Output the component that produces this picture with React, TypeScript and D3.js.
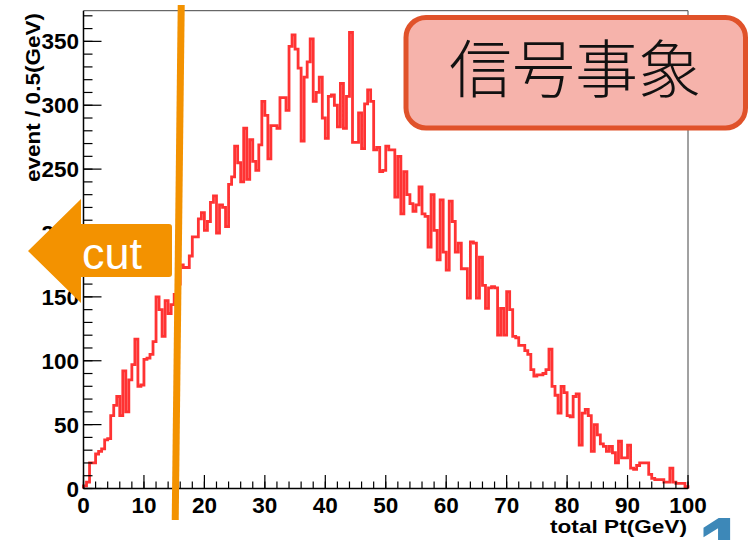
import React, { useEffect } from "react";
import * as d3 from "d3";

// ---- data (events per 0.5 GeV bin, 0..100 GeV) ----
const binWidth = 0.5;
const binValues: number[] = [
  2, 5, 20, 20, 27, 29, 31, 38, 39, 57,
  65, 72, 57, 92, 60, 85, 97, 117, 80, 81,
  101, 102, 105, 115, 150, 140, 119, 147, 137, 144,
  152, 160, 175, 173, 173, 182, 197, 197, 211, 216,
  202, 209, 224, 229, 200, 222, 220, 205, 238, 244,
  268, 255, 240, 282, 242, 273, 256, 249, 269, 303,
  292, 258, 284, 284, 282, 306, 306, 296, 346, 355,
  344, 329, 272, 322, 334, 352, 303, 310, 322, 290,
  274, 307, 308, 300, 283, 317, 282, 307, 357, 271,
  271, 294, 266, 301, 312, 303, 265, 267, 248, 249,
  268, 265, 265, 228, 260, 215, 248, 230, 223, 217,
  222, 236, 215, 213, 189, 230, 202, 179, 226, 185,
  171, 225, 209, 185, 192, 172, 172, 149, 193, 192,
  149, 181, 159, 141, 157, 158, 157, 120, 141, 120,
  154, 140, 119, 118, 112, 112, 108, 105, 93, 88,
  89, 89, 90, 93, 109, 80, 73, 59, 80, 75,
  57, 56, 72, 74, 34, 59, 62, 57, 29, 50,
  42, 35, 33, 29, 33, 28, 20, 37, 24, 24,
  34, 16, 15, 18, 20, 20, 20, 11, 8, 7,
  7, 7, 5, 5, 16, 5, 4, 4, 4, 1.5,
];

const xMajorTicks = [0, 10, 20, 30, 40, 50, 60, 70, 80, 90, 100];
const xMinorTicks = d3.range(0, 101, 2);
const yMajorTicks = [0, 50, 100, 150, 200, 250, 300, 350];
const yMinorTicks = d3.range(0, 371, 10);
const xTitle = "total Pt(GeV)";
const yTitle = "event / 0.5(GeV)";
const boxLabel = "信号事象";
const cutLabel = "cut";
const pageLabel = "1";
const cutValue = 16; // GeV (drawn as a slanted marker)

const W = 750;
const H = 540;
const X0 = 83.5, X1 = 688, Y0 = 488.5, Y1 = 10.7;

export default function App() {
  useEffect(() => {
    document.body.style.margin = "0";
  }, []);

  const x = d3.scaleLinear().domain([0, 100]).range([X0, X1]);
  const y = d3.scaleLinear().domain([0, 374]).range([Y0, Y1]);

  const pts: [number, number][] = [[0, 0]];
  binValues.forEach((v, i) => pts.push([i * binWidth, v]));
  pts.push([100, binValues[binValues.length - 1]]);
  pts.push([100, 0]);
  const line = d3
    .line<[number, number]>()
    .x((d) => x(d[0]))
    .y((d) => y(d[1]))
    .curve(d3.curveStepAfter);
  const histPath = line(pts) || "";

  const orange = "#f39200";
  const labelFont = "'Liberation Sans', Arial, Helvetica, sans-serif";

  return (
    <svg
      width={W}
      height={H}
      style={{ position: "absolute", left: 0, top: 0, background: "#fff" }}
    >
      <rect x={0} y={0} width={W} height={H} fill="#fff" />
      {/* frame */}
      <line x1={X0} x2={X1} y1={Y1} y2={Y1} stroke="#444" strokeWidth={1} />
      <line x1={X1} x2={X1} y1={Y1} y2={Y0} stroke="#444" strokeWidth={1} />

      {/* histogram */}
      <path d={histPath} fill="none" stroke="#ff3333" strokeWidth={2.8} strokeLinejoin="miter" />

      {/* axes */}
      <line x1={X0} x2={X1} y1={Y0} y2={Y0} stroke="#000" strokeWidth={1.5} />
      <line x1={X0} x2={X0} y1={Y0} y2={Y1} stroke="#000" strokeWidth={1.5} />
      {xMinorTicks.map((t) => (
        <line key={"xm" + t} x1={x(t)} x2={x(t)} y1={Y0} y2={Y0 - 7} stroke="#000" strokeWidth={1.2} />
      ))}
      {xMajorTicks.map((t) => (
        <line key={"xM" + t} x1={x(t)} x2={x(t)} y1={Y0} y2={Y0 - 13.5} stroke="#000" strokeWidth={1.2} />
      ))}
      {yMinorTicks.map((t) => (
        <line key={"ym" + t} x1={X0} x2={X0 + 9} y1={y(t)} y2={y(t)} stroke="#000" strokeWidth={1.2} />
      ))}
      {yMajorTicks.map((t) => (
        <line key={"yM" + t} x1={X0} x2={X0 + 18} y1={y(t)} y2={y(t)} stroke="#000" strokeWidth={1.2} />
      ))}
      {xMajorTicks.map((t) => (
        <text
          key={"xl" + t}
          x={x(t)}
          y={513}
          textAnchor="middle"
          fontFamily={labelFont}
          fontWeight="bold"
          fontSize={22.5}
          fill="#000"
        >
          {t}
        </text>
      ))}
      {yMajorTicks.map((t) => (
        <text
          key={"yl" + t}
          x={79}
          y={y(t) + 8}
          textAnchor="end"
          fontFamily={labelFont}
          fontWeight="bold"
          fontSize={22.5}
          fill="#000"
        >
          {t}
        </text>
      ))}
      <text
        x={687}
        y={533}
        textAnchor="end"
        fontFamily={labelFont}
        fontWeight="bold"
        fontSize={19}
        textLength={137}
        lengthAdjust="spacingAndGlyphs"
        fill="#000"
      >
        {xTitle}
      </text>
      <text
        transform="translate(39.5,13) rotate(-90)"
        textAnchor="end"
        fontFamily={labelFont}
        fontWeight="bold"
        fontSize={19.5}
        textLength={169}
        lengthAdjust="spacingAndGlyphs"
        fill="#000"
      >
        {yTitle}
      </text>

      {/* cut marker */}
      <line
        x1={x(cutValue) + 1}
        y1={5}
        x2={x(cutValue) - 5}
        y2={520}
        stroke={orange}
        strokeWidth={7}
      />
      <path
        d="M28,251 L81,199 L81,224 L169,224 Q172,224 172,227 L172,274 Q172,277 169,277 L81,277 L81,303 Z"
        fill={orange}
      />
      <text
        x={82}
        y={269}
        fontFamily={labelFont}
        fontSize={45}
        fill="#fff"
      >
        {cutLabel}
      </text>

      {/* signal label box */}
      <rect
        x={406}
        y={17.5}
        width={339.5}
        height={110.5}
        rx={20}
        ry={20}
        fill="#f6b3ab"
        stroke="#e0522a"
        strokeWidth={5}
      />
      <text
        x={575}
        y={92}
        textAnchor="middle"
        fontFamily="'Noto Sans CJK JP', 'Noto Sans CJK SC', sans-serif"
        fontWeight={300}
        fontSize={63}
        fill="#111"
      >
        {boxLabel}
      </text>

      {/* page number fragment (cut by the lower edge, as in the slide) */}
      <text
        x={722}
        y={578}
        textAnchor="middle"
        fontFamily={labelFont}
        fontWeight="bold"
        fontSize={88}
        fill="#3d88b8"
      >
        {pageLabel}
      </text>
    </svg>
  );
}
